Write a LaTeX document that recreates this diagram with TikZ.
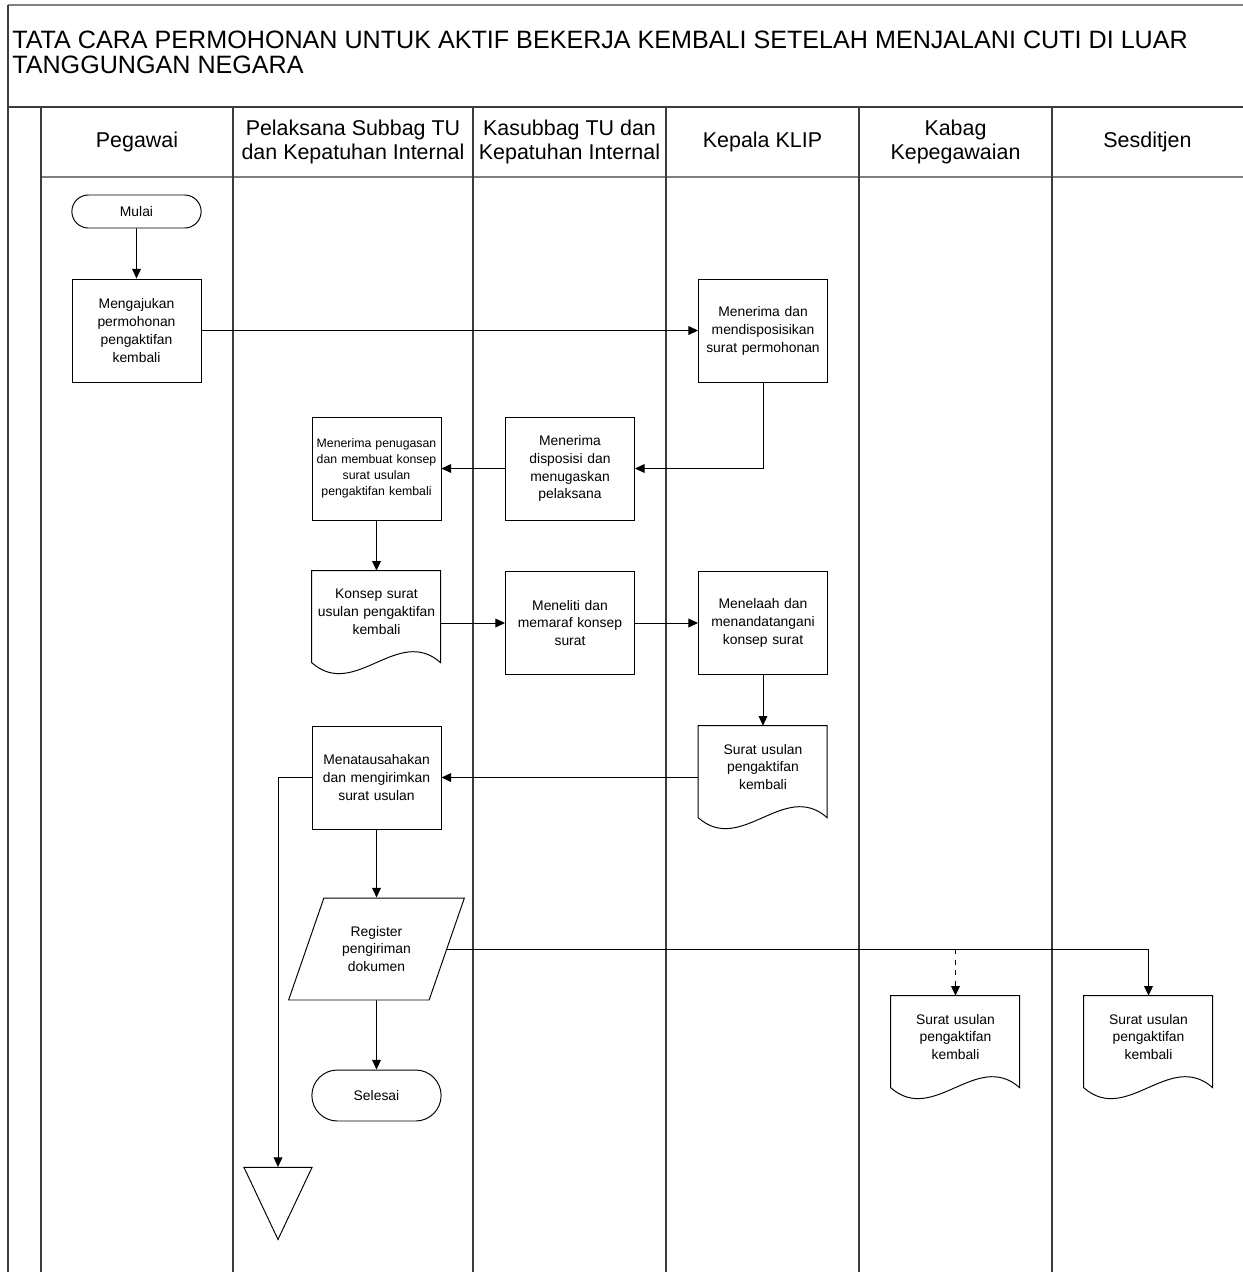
\documentclass[tikz,border=0pt]{standalone}
\usepackage{fontspec}
\setmainfont{Liberation Sans}
\usetikzlibrary{shapes.geometric,shapes.misc,arrows.meta}
\definecolor{framegray}{RGB}{60,60,60}

% outline of a document symbol (wavy bottom) around a named node
\newcommand{\docoutline}[1]{\draw[line width=0.55pt, shift={(#1.north west)}] (0,0) -- (129,0) -- (129,92) .. controls (86,54) and (43,130) .. (0,92) -- cycle;}

\begin{document}
\begin{tikzpicture}[x=0.02cm, y=-0.02cm, >={Triangle[length=5.5pt,width=5pt]}]
    \tikzstyle{lane} = [line width=1.1pt, draw=framegray]
    \tikzstyle{header} = [align=center, font=\fontsize{12.2}{13.6}\selectfont]
    \tikzstyle{process} = [rectangle, draw, line width=0.55pt, minimum width=2.58cm, minimum height=2.06cm, text width=2.5cm, inner sep=0.04cm, align=center, font=\fontsize{7.9}{10.2}\selectfont]
    \tikzstyle{smallprocess} = [process, font=\fontsize{7}{9.1}\selectfont]
    \tikzstyle{terminal} = [rounded rectangle, draw, line width=0.55pt, minimum width=2.82cm, minimum height=0.66cm, font=\fontsize{7.9}{10.2}\selectfont]
    \tikzstyle{docu} = [rectangle, minimum width=2.58cm, minimum height=1.64cm, text width=2.5cm, inner sep=0.04cm, align=center, font=\fontsize{7.9}{10.2}\selectfont]
    \tikzstyle{io} = [trapezium, trapezium left angle=65, trapezium right angle=115, trapezium stretches=true, draw, line width=0.55pt, minimum width=3.54cm, minimum height=2.04cm, align=center, font=\fontsize{7.9}{10.2}\selectfont]
    \tikzstyle{offpage} = [isosceles triangle, isosceles triangle stretches, shape border rotate=-90, draw, line width=0.55pt, inner sep=0pt, minimum width=1.36cm, minimum height=1.44cm]
    \tikzstyle{flow} = [->, line width=0.55pt]

    \useasboundingbox (0,0) rectangle (1243,1272);

    % Frame and lanes
    \draw[line width=1pt, draw=gray] (8,5) -- (1243,5);
    \draw[lane] (8,5) -- (8,1272);
    \draw[line width=1.6pt, draw=framegray] (8,107) -- (1243,107);
    \draw[line width=1pt, draw=gray] (41,177) -- (1243,177);
    \draw[lane] (41,107) -- (41,1272);
    \draw[lane] (233,107) -- (233,1272);
    \draw[lane] (473,107) -- (473,1272);
    \draw[lane] (666,107) -- (666,1272);
    \draw[lane] (859,107) -- (859,1272);
    \draw[lane] (1052,107) -- (1052,1272);

    % Title
    \node[anchor=west, inner sep=0pt, align=left, font=\fontsize{14.3}{14.4}\selectfont] (title) at (12,52) {TATA CARA PERMOHONAN UNTUK AKTIF BEKERJA KEMBALI SETELAH MENJALANI CUTI DI LUAR\\TANGGUNGAN NEGARA};

    % Lane headers
    \node[header] (hpeg) at (137,142) {Pegawai};
    \node[header] (hpel) at (353,142) {Pelaksana Subbag TU\\dan Kepatuhan Internal};
    \node[header] (hkas) at (569.5,142) {Kasubbag TU dan\\Kepatuhan Internal};
    \node[header] (hkep) at (762.5,142) {Kepala KLIP};
    \node[header] (hkab) at (955.5,142) {Kabag\\Kepegawaian};
    \node[header] (hses) at (1147.5,142) {Sesditjen};

    % Steps
    \node[terminal] (mulai) at (136.5,211.5) {Mulai};
    \node[process] (aju) at (136.5,330.5) {Mengajukan\\permohonan\\pengaktifan\\kembali};
    \node[process] (disp) at (763,331) {Menerima dan\\mendisposisikan\\surat permohonan};
    \node[process] (tugas) at (570,468.5) {Menerima\\disposisi dan\\menugaskan\\pelaksana};
    \node[smallprocess] (buat) at (376.5,468.5) {Menerima penugasan\\dan membuat konsep\\surat usulan\\pengaktifan kembali};
    \node[docu] (konsep) at (376.5,612) {Konsep surat\\usulan pengaktifan\\kembali};
    \node[process] (teliti) at (570,623) {Meneliti dan\\memaraf konsep\\surat};
    \node[process] (telaah) at (763,623) {Menelaah dan\\menandatangani\\konsep surat};
    \node[docu] (usulan) at (763,767) {Surat usulan\\pengaktifan\\kembali};
    \node[process] (tata) at (376.5,777.5) {Menatausahakan\\dan mengirimkan\\surat usulan};
    \node[io] (reg) at (376.5,949) {Register\\pengiriman\\dokumen};
    \node[terminal, minimum height=1.02cm] (selesai) at (376.5,1095.5) {Selesai};
    \node[docu] (kab) at (955.5,1037) {Surat usulan\\pengaktifan\\kembali};
    \node[docu] (ses) at (1148.5,1037) {Surat usulan\\pengaktifan\\kembali};
    \node[offpage] (lanjut) at (278,1189) {};

    % Document symbols
    \docoutline{konsep}
    \docoutline{usulan}
    \docoutline{kab}
    \docoutline{ses}

    % Arrows
    \draw[flow] (mulai) -- (aju);
    \draw[flow] (aju.east) -- (aju.east -| disp.west);
    \draw[flow] (disp.south) |- (tugas.east);
    \draw[flow] (tugas.west) -- (buat.east);
    \draw[flow] (buat.south) -- (konsep.north);
    \draw[flow] (konsep.east |- teliti.west) -- (teliti.west);
    \draw[flow] (teliti.east) -- (telaah.west);
    \draw[flow] (telaah.south) -- (usulan.north);
    \draw[flow] (usulan.west |- tata.east) -- (tata.east);
    \draw[flow] (tata.south) -- (reg.north);
    \draw[flow] (reg.south) -- (selesai.north);
    \draw[flow] (reg.east) -| (ses.north);
    \draw[flow, dashed] (reg.east -| kab.north) -- (kab.north);
    \draw[flow] (tata.west) -| (lanjut.north);
\end{tikzpicture}
\end{document}
